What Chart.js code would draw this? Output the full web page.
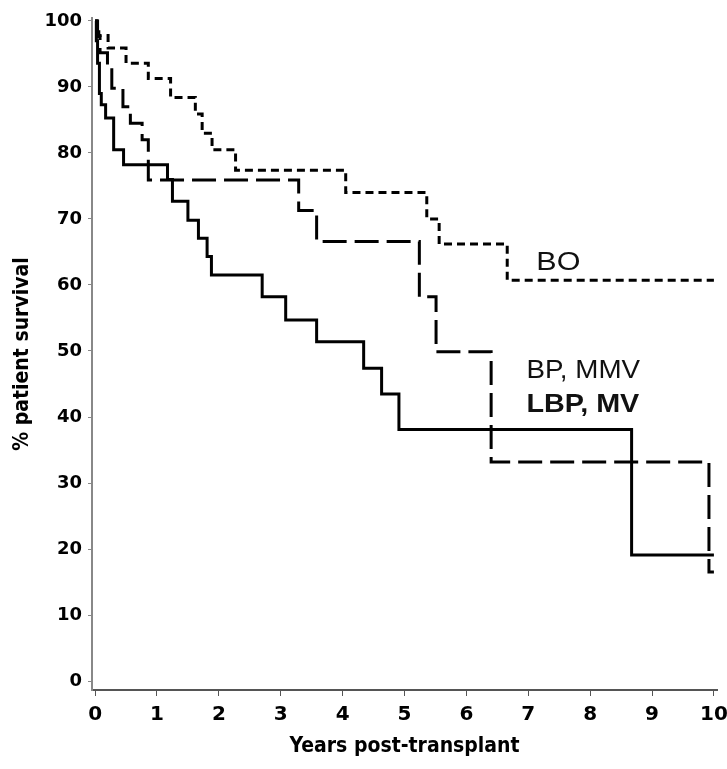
<!DOCTYPE html>
<html>
<head>
<meta charset="utf-8">
<script src="https://cdn.jsdelivr.net/npm/chart.js@4.4.1/dist/chart.umd.min.js"></script>
<style>
  html, body { margin: 0; padding: 0; background: #fff; }
  #wrap { width: 727px; height: 769px; }
</style>
</head>
<body>
<div id="wrap"><canvas id="grafica"></canvas></div>
<script>
// ── Datos (años, % supervivencia) ─────────────────────────
const boX   = [0, 0.03, 0.06, 0.21, 0.5, 0.86, 1.22, 1.62, 1.73, 1.89, 2.27, 4.05, 5.36, 5.56, 6.66, 10];
const boY   = [100, 99, 97.8, 95.9, 93.6, 91.3, 88.4, 85.9, 83, 80.5, 77.4, 74.0, 70.0, 66.2, 60.7, 60.7];

const bpX   = [0, 0.04, 0.08, 0.2, 0.27, 0.45, 0.57, 0.76, 0.86, 3.29, 3.58, 5.24, 5.51, 6.40, 9.92, 10];
const bpY   = [100, 97.6, 95.2, 92.9, 89.8, 87.0, 84.5, 82.0, 75.9, 71.3, 66.6, 58.2, 49.9, 33.2, 16.5, 16.5];

const lbpX  = [0, 0.02, 0.04, 0.07, 0.1, 0.17, 0.3, 0.46, 1.17, 1.25, 1.5, 1.67, 1.81, 1.88, 2.7, 3.08, 3.58, 4.34, 4.63, 4.91, 8.67, 10];
const lbpY  = [100, 97, 93.6, 89, 87.3, 85.3, 80.5, 78.2, 76.0, 72.7, 69.8, 67.1, 64.3, 61.5, 58.2, 54.7, 51.4, 47.4, 43.5, 38.1, 19.1, 19.1];

const xTicks = [0, 1, 2, 3, 4, 5, 6, 7, 8, 9, 10];
const yTicks = [0, 10, 20, 30, 40, 50, 60, 70, 80, 90, 100];

const etiquetas = [
  { text: 'BO',      x: 7.13, y: 62.3, bold: false, escala: 1.22 },
  { text: 'BP, MMV', x: 6.97, y: 45.9, bold: false, escala: 1.11 },
  { text: 'LBP, MV', x: 6.97, y: 40.8, bold: true,  escala: 1.15 }
];

// ── Helpers ───────────────────────────────────────────────
const puntos = (xs, ys) => xs.map((x, i) => ({ x, y: ys[i] }));

const serie = (nombre, xs, ys, dash) => ({
  label: nombre,
  data: puntos(xs, ys),
  borderColor: '#000',
  borderWidth: 3,
  borderDash: dash,
  stepped: 'before',
  pointRadius: 0,
  fill: false
});

const narrow = '"Liberation Sans Narrow", "DejaVu Sans Condensed", "Liberation Sans", sans-serif';
const ancha  = '"DejaVu Sans", "Liberation Sans", sans-serif';

// plugin para los textos de las curvas
const textosCurvas = {
  id: 'textosCurvas',
  afterDatasetsDraw(chart) {
    const { ctx, scales } = chart;
    etiquetas.forEach(e => {
      ctx.save();
      ctx.fillStyle = '#111';
      ctx.textBaseline = 'alphabetic';
      ctx.textAlign = 'left';
      ctx.font = (e.bold ? 'bold ' : '') + '25px "Liberation Sans", Arial, sans-serif';
      const px = scales.x.getPixelForValue(e.x);
      const py = scales.y.getPixelForValue(e.y);
      ctx.translate(px, py);
      ctx.scale(e.escala, 1);
      ctx.fillText(e.text, 0, 0);
      ctx.restore();
    });
  }
};

function crearGrafica() {
  const canvas = document.getElementById('grafica');

  new Chart(canvas, {
    type: 'line',
    data: {
      datasets: [
        serie('BO', boX, boY, [8, 5]),
        serie('BP, MMV', bpX, bpY, [24, 8]),
        serie('LBP, MV', lbpX, lbpY, [])
      ]
    },
    options: {
      responsive: true,
      maintainAspectRatio: false,
      animation: false,
      layout: { padding: { top: 18, right: 10, left: 0, bottom: 0 } },
      plugins: {
        legend: { display: false },
        tooltip: { enabled: false }
      },
      scales: {
        x: {
          type: 'linear',
          min: -0.05,
          max: 10.05,
          afterBuildTicks: s => { s.ticks = xTicks.map(v => ({ value: v })); },
          afterFit: s => { s.height = 79; s.paddingLeft = 0; s.paddingRight = 0; },
          border: { display: true, color: '#555', width: 2 },
          grid: { drawOnChartArea: false, color: '#555', tickLength: 6 },
          ticks: {
            color: '#000',
            padding: 7,
            maxRotation: 0,
            font: { family: ancha, size: 20, weight: 'bold' }
          },
          title: {
            display: true,
            text: 'Years post-transplant',
            color: '#000',
            padding: { top: 0, bottom: 10 },
            font: { family: narrow, size: 21, weight: 'bold' }
          }
        },
        y: {
          type: 'linear',
          min: -1.36,
          max: 100.45,
          afterBuildTicks: s => { s.ticks = yTicks.map(v => ({ value: v })); },
          afterFit: s => { s.width = 92; s.paddingTop = 0; s.paddingBottom = 0; },
          border: { display: true, color: '#888', width: 2 },
          grid: { drawOnChartArea: false, color: '#888', tickLength: 4 },
          ticks: {
            color: '#000',
            padding: 6,
            font: { family: ancha, size: 18, weight: 'bold' }
          },
          title: {
            display: true,
            text: '% patient survival',
            color: '#000',
            padding: { top: 10, bottom: 0 },
            font: { family: narrow, size: 21, weight: 'bold' }
          }
        }
      }
    },
    plugins: [textosCurvas]
  });
}

crearGrafica();
</script>
</body>
</html>
